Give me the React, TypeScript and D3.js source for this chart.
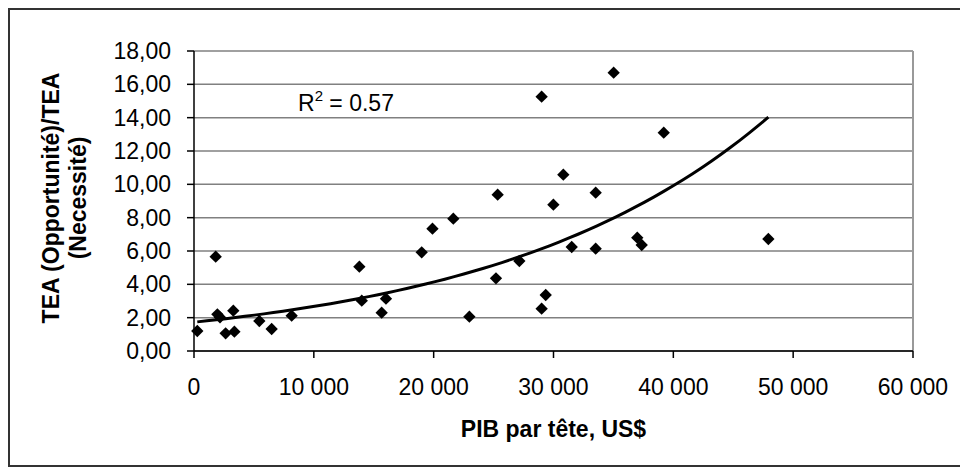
import React from 'react';
import * as d3 from 'd3';

// PIB par tête (US$) and the TEA opportunity / necessity ratio, one entry per country
const gdpPerHead = [
  275, 1810, 1950, 2170, 2640, 3280, 3370, 5450, 6480, 8150,
  13800, 14000, 15660, 16020, 19000, 19900, 21640, 22980, 25200, 25340,
  27150, 29010, 29010, 29350, 29990, 30820, 31520, 33520, 33520, 35020,
  36990, 37360, 39200, 47930,
];
const teaRatio = [
  1.2, 5.66, 2.2, 2.02, 1.06, 2.42, 1.16, 1.8, 1.32, 2.12,
  5.06, 3.02, 2.3, 3.14, 5.92, 7.34, 7.94, 2.06, 4.36, 9.38,
  5.4, 15.26, 2.54, 3.36, 8.78, 10.58, 6.24, 9.5, 6.14, 16.7,
  6.8, 6.36, 13.1, 6.72,
];

const xTicks = [0, 10000, 20000, 30000, 40000, 50000, 60000];
const yTicks = [0, 2, 4, 6, 8, 10, 12, 14, 16, 18];
const rSquared = '0.57';

const W = 960;
const H = 473;
const plot = { left: 194, right: 913, top: 51, bottom: 351 };
const font = 'Arial, "Liberation Sans", sans-serif';

const x = d3.scaleLinear().domain([0, 60000]).range([plot.left, plot.right]);
const y = d3.scaleLinear().domain([0, 18]).range([plot.bottom, plot.top]);

const fmtY = (v: number) => d3.format('.2f')(v).replace('.', ',');
const fmtX = (v: number) => d3.format(',')(v).replace(/,/g, ' ');

// exponential trend line, least squares on ln(y) like the spreadsheet does
function expFit(xs: number[], ys: number[]) {
  const ly = ys.map((v) => Math.log(v));
  const mx = d3.mean(xs) as number;
  const my = d3.mean(ly) as number;
  let sxy = 0;
  let sxx = 0;
  xs.forEach((xv, i) => {
    sxy += (xv - mx) * (ly[i] - my);
    sxx += (xv - mx) * (xv - mx);
  });
  const b = sxy / sxx;
  const a = Math.exp(my - b * mx);
  return (v: number) => a * Math.exp(b * v);
}

export default function App() {
  const points = gdpPerHead.map((g, i) => ({ g, r: teaRatio[i] }));
  const trend = expFit(gdpPerHead, teaRatio);
  const [x0, x1] = d3.extent(gdpPerHead) as [number, number];
  const trendPts = d3.range(0, 61).map((i) => {
    const v = x0 + ((x1 - x0) * i) / 60;
    return [v, trend(v)] as [number, number];
  });
  const line = d3
    .line<[number, number]>()
    .x((d) => x(d[0]))
    .y((d) => y(d[1]));
  const diamond = d3.symbol().type(d3.symbolSquare).size(76)();

  return (
    <div style={{ position: 'fixed', left: 0, top: 0 }}>
      <svg width={W} height={H} style={{ display: 'block', background: '#fff' }} fontFamily={font}>
        <rect x={9} y={9} width={1000} height={457} fill="#fff" stroke="#333" strokeWidth={2} />

        {/* grid */}
        {yTicks.map((t) => (
          <line key={'g' + t} x1={plot.left} x2={plot.right} y1={y(t)} y2={y(t)} stroke="#808080" strokeWidth={1.5} />
        ))}
        <line x1={plot.right} x2={plot.right} y1={plot.top} y2={plot.bottom} stroke="#999" strokeWidth={2} />

        {/* axes */}
        <line x1={plot.left} x2={plot.left} y1={plot.top} y2={plot.bottom} stroke="#000" strokeWidth={1.5} />
        <line x1={plot.left} x2={plot.right} y1={plot.bottom} y2={plot.bottom} stroke="#000" strokeWidth={1.5} />
        {yTicks.map((t) => (
          <g key={'y' + t}>
            <line x1={plot.left - 7} x2={plot.left} y1={y(t)} y2={y(t)} stroke="#000" strokeWidth={1.5} />
            <text x={171} y={y(t)} dy="0.35em" textAnchor="end" fontSize={23} fill="#000">
              {fmtY(t)}
            </text>
          </g>
        ))}
        {xTicks.map((t) => (
          <g key={'x' + t}>
            <line x1={x(t)} x2={x(t)} y1={plot.bottom} y2={plot.bottom + 7} stroke="#000" strokeWidth={1.5} />
            <text x={x(t)} y={395} textAnchor="middle" fontSize={23} fill="#000">
              {fmtX(t)}
            </text>
          </g>
        ))}

        {/* titles */}
        <text x={(plot.left + plot.right) / 2} y={437} textAnchor="middle" fontSize={23} fontWeight="bold">
          PIB par tête, US$
        </text>
        <g transform="translate(59,198) rotate(-90)">
          <text textAnchor="middle" fontSize={23} fontWeight="bold">TEA (Opportunité)/TEA</text>
          <text y={27} textAnchor="middle" fontSize={23} fontWeight="bold">(Necessité)</text>
        </g>

        {/* trend */}
        <path d={line(trendPts) ?? ''} fill="none" stroke="#000" strokeWidth={3} />
        <text x={298} y={111} fontSize={23} fill="#000">
          R<tspan dy={-10} fontSize={15}>2</tspan>
          <tspan dy={10}> = {rSquared}</tspan>
        </text>

        {/* points */}
        {points.map((p, i) => (
          <path key={i} d={diamond ?? ''} transform={`translate(${x(p.g)},${y(p.r)}) rotate(45)`} fill="#000" />
        ))}
      </svg>
    </div>
  );
}
